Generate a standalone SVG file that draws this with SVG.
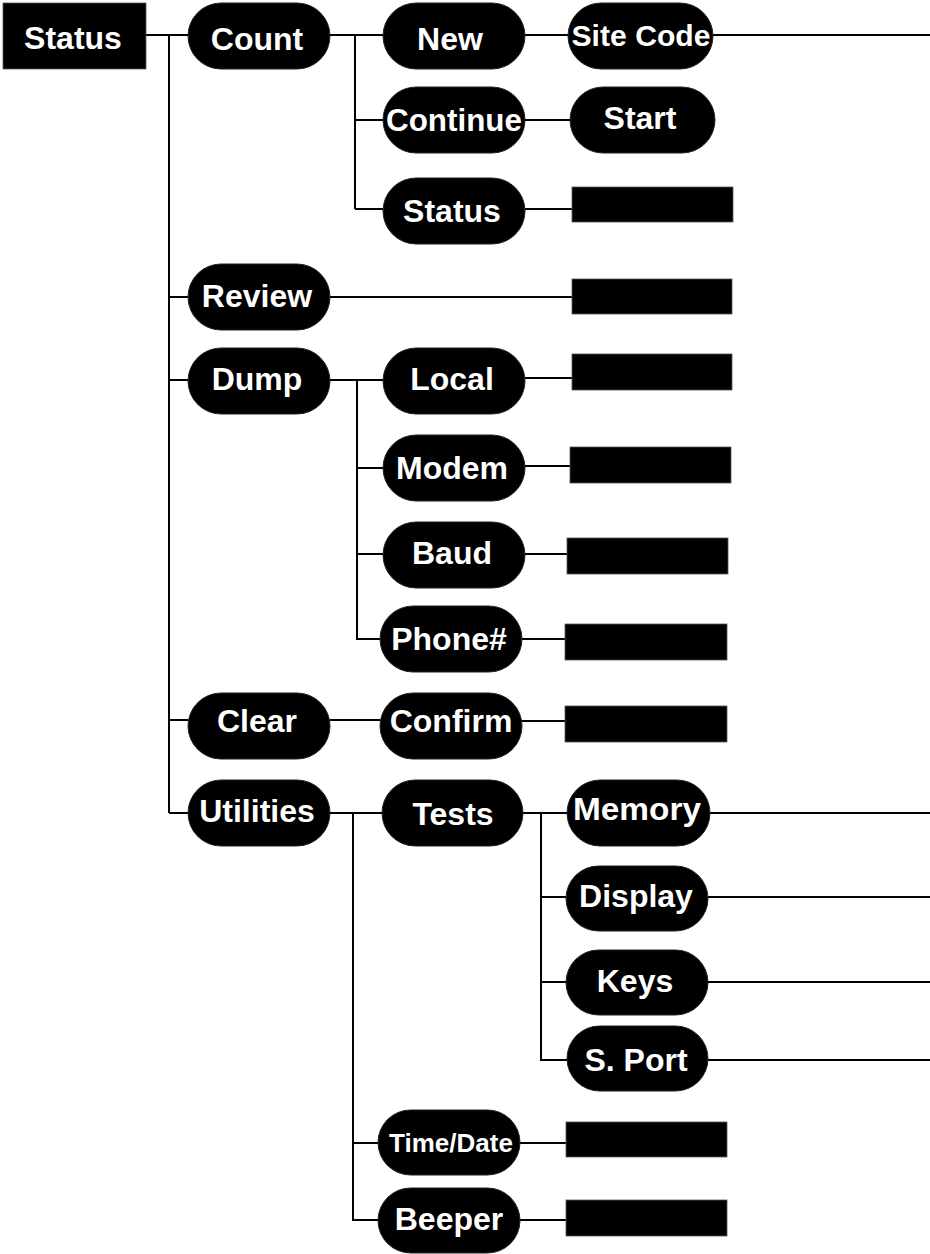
<svg xmlns="http://www.w3.org/2000/svg" width="930" height="1254" viewBox="0 0 930 1254">
<style>
.pill{fill:#000;stroke:#222;stroke-width:1}
.box{fill:#000;stroke:#555;stroke-width:0.8}
.lbl{fill:#fff;font-family:"Liberation Sans",Arial,sans-serif;font-weight:bold;font-size:32px;text-anchor:middle}
.conn{stroke:#000;stroke-width:2;fill:none}
</style>
<rect width="930" height="1254" fill="#fff"/>
<g id="connectors" class="conn">
<path d="M146 35H188M169 35V813M169 297H188M169 380H188M169 720H188M169 813H188"/>
<path d="M330 35H383M355 35V209M355 120H383M355 209H383"/>
<path d="M525 35H568M713 35H930M525 120H570M525 209H572"/>
<path d="M330 297H572"/>
<path d="M330 380H383M357 380V639H380M357 468H383M357 554H383"/>
<path d="M525 378H572M525 466H570M525 554H567M522 639H565"/>
<path d="M330 720H380M522 721H565"/>
<path d="M330 813H382M353 813V1220H378M353 1143H378M520 1143H566M520 1220H566"/>
<path d="M523 813H567M541 813V1060H567M541 897H566M541 982H566"/>
<path d="M710 813H930M708 897H930M708 982H930M708 1060H930"/>
</g>
<g id="n-status-root"><rect class="box" x="3" y="3" width="143" height="66"/><text class="lbl" x="73" y="49">Status</text></g>
<g id="n-count"><rect class="pill" x="188" y="3" width="142" height="66" rx="33"/><text class="lbl" x="257" y="50">Count</text></g>
<g id="n-new"><rect class="pill" x="383" y="3" width="142" height="66" rx="33"/><text class="lbl" x="450" y="50">New</text></g>
<g id="n-sitecode"><rect class="pill" x="568" y="3" width="145" height="66" rx="33"/><text class="lbl" x="641" y="46" style="font-size:29px" textLength="139" lengthAdjust="spacingAndGlyphs">Site Code</text></g>
<g id="n-continue"><rect class="pill" x="383" y="87" width="142" height="66" rx="33"/><text class="lbl" x="454" y="131" textLength="136" lengthAdjust="spacingAndGlyphs">Continue</text></g>
<g id="n-start"><rect class="pill" x="570" y="87" width="145" height="66" rx="33"/><text class="lbl" x="640" y="129">Start</text></g>
<g id="n-status"><rect class="pill" x="383" y="178" width="142" height="66" rx="33"/><text class="lbl" x="452" y="222">Status</text></g>
<g id="r-status"><rect class="box" x="572" y="187" width="161" height="35"/></g>
<g id="n-review"><rect class="pill" x="188" y="264" width="142" height="66" rx="33"/><text class="lbl" x="257" y="307">Review</text></g>
<g id="r-review"><rect class="box" x="572" y="279" width="160" height="35"/></g>
<g id="n-dump"><rect class="pill" x="188" y="348" width="142" height="66" rx="33"/><text class="lbl" x="257" y="390">Dump</text></g>
<g id="n-local"><rect class="pill" x="383" y="348" width="142" height="66" rx="33"/><text class="lbl" x="452" y="390">Local</text></g>
<g id="r-local"><rect class="box" x="572" y="354" width="160" height="36"/></g>
<g id="n-modem"><rect class="pill" x="383" y="435" width="142" height="66" rx="33"/><text class="lbl" x="452" y="479">Modem</text></g>
<g id="r-modem"><rect class="box" x="570" y="447" width="161" height="36"/></g>
<g id="n-baud"><rect class="pill" x="383" y="522" width="142" height="66" rx="33"/><text class="lbl" x="452" y="564">Baud</text></g>
<g id="r-baud"><rect class="box" x="567" y="538" width="161" height="36"/></g>
<g id="n-phone"><rect class="pill" x="380" y="606" width="142" height="66" rx="33"/><text class="lbl" x="449" y="650">Phone#</text></g>
<g id="r-phone"><rect class="box" x="565" y="624" width="162" height="36"/></g>
<g id="n-clear"><rect class="pill" x="188" y="693" width="142" height="66" rx="33"/><text class="lbl" x="257" y="732">Clear</text></g>
<g id="n-confirm"><rect class="pill" x="380" y="693" width="142" height="66" rx="33"/><text class="lbl" x="451" y="732">Confirm</text></g>
<g id="r-confirm"><rect class="box" x="565" y="706" width="162" height="36"/></g>
<g id="n-utilities"><rect class="pill" x="188" y="780" width="142" height="66" rx="33"/><text class="lbl" x="257" y="822">Utilities</text></g>
<g id="n-tests"><rect class="pill" x="382" y="780" width="141" height="66" rx="33"/><text class="lbl" x="453" y="825">Tests</text></g>
<g id="n-memory"><rect class="pill" x="567" y="780" width="143" height="66" rx="33"/><text class="lbl" x="637" y="820" textLength="128" lengthAdjust="spacingAndGlyphs">Memory</text></g>
<g id="n-display"><rect class="pill" x="566" y="866" width="142" height="65" rx="32.5"/><text class="lbl" x="636" y="907">Display</text></g>
<g id="n-keys"><rect class="pill" x="566" y="950" width="142" height="65" rx="32.5"/><text class="lbl" x="635" y="992">Keys</text></g>
<g id="n-sport"><rect class="pill" x="567" y="1026" width="141" height="65" rx="32.5"/><text class="lbl" x="636" y="1071">S. Port</text></g>
<g id="n-timedate"><rect class="pill" x="378" y="1110" width="142" height="65" rx="32.5"/><text class="lbl" x="451" y="1152" style="font-size:26px">Time/Date</text></g>
<g id="r-timedate"><rect class="box" x="566" y="1122" width="161" height="35"/></g>
<g id="n-beeper"><rect class="pill" x="378" y="1188" width="142" height="65" rx="32.5"/><text class="lbl" x="449" y="1230">Beeper</text></g>
<g id="r-beeper"><rect class="box" x="566" y="1200" width="161" height="36"/></g>
</svg>
